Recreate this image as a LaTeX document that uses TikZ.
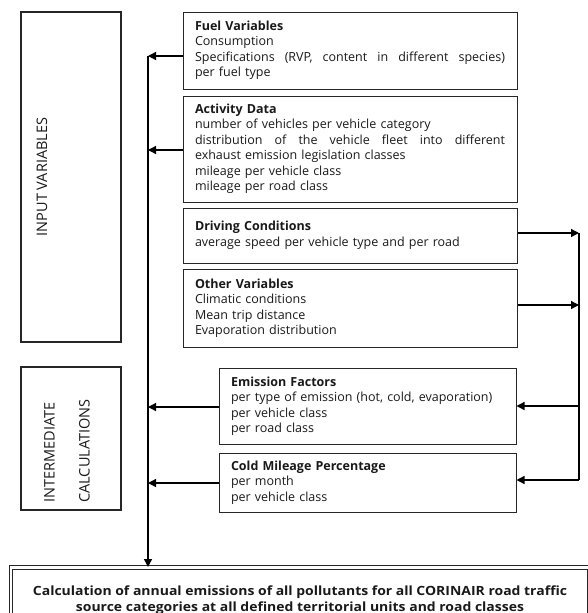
\documentclass[tikz,border=0pt]{standalone}
\usepackage{fontspec}
\setmainfont{Open Sans}
\newfontfamily\resultfont[FakeStretch=1.1]{Open Sans}
\usetikzlibrary{positioning, arrows.meta}

\begin{document}
\begin{tikzpicture}[
    x=1pt, y=-1pt,
    font=\fontsize{12.5}{15.5}\selectfont,
    box/.style={rectangle, draw=black!85, line width=1pt, align=left, inner xsep=12pt, inner ysep=0pt, text=black!90},
    inbox/.style={box, minimum width=334pt, text width=310pt},
    calcbox/.style={box, minimum width=297pt, text width=273pt},
    sidebox/.style={rectangle, draw=black!85, line width=1.2pt, minimum width=100pt},
    sidetext/.style={rotate=90, font=\fontsize{14.5}{35}\selectfont, align=left, text=black!90},
    link/.style={line width=1.3pt, -{Triangle[length=8pt, width=8pt]}},
    bus/.style={line width=1.3pt}
]
\useasboundingbox (0,0) rectangle (588,613);

% Side boxes
\node[sidebox, minimum height=330pt] (inputbox) at (71,177) {};
\node[sidetext] (inputlbl) at (42,177) {INPUT VARIABLES};
\node[sidebox, minimum height=143pt] (interbox) at (71,438.5) {};
\node[sidetext] (interlbl) at (67,451) {INTERMEDIATE\\CALCULATIONS};

% Input variables
\node[inbox, minimum height=77pt] (fuel) at (350,50.5) {\textbf{Fuel Variables}\\Consumption\\\leavevmode\hbox to 310pt{Specifications\hfill(RVP,\hfill content\hfill in\hfill different\hfill species)}\\per fuel type};
\node[inbox, minimum height=106pt] (activity) at (350,149) {\textbf{Activity Data}\\number of vehicles per vehicle category\\\leavevmode\hbox to 310pt{distribution\hfill of\hfill the\hfill vehicle\hfill fleet\hfill into\hfill different}\\exhaust emission legislation classes\\mileage per vehicle class\\mileage per road class};
\node[inbox, minimum height=55pt] (driving) at (350,235.5) {\textbf{Driving Conditions}\\average speed per vehicle type and per road};
\node[inbox, minimum height=78pt] (other) at (350,308) {\textbf{Other Variables}\\Climatic conditions\\Mean trip distance\\Evaporation distribution};

% Intermediate calculations
\node[calcbox, minimum height=76pt] (emission) at (367.5,406) {\textbf{Emission Factors}\\per type of emission (hot, cold, evaporation)\\per vehicle class\\per road class};
\node[calcbox, minimum height=59pt] (cold) at (367.5,482.5) {\textbf{Cold Mileage Percentage}\\per month\\per vehicle class};

% Result
\node[rectangle, draw=black!85, double=white, double distance=2.5pt, line width=0.9pt, anchor=north, minimum width=578pt, inner ysep=18pt, align=center, text=black!90, font=\resultfont\fontsize{12.7}{16}\selectfont\bfseries] (result) at (300,567) {Calculation of annual emissions of all pollutants for all CORINAIR road traffic\\source categories at all defined territorial units and road classes};

% Left bus
\coordinate (lbustop) at (148,56);
\coordinate (actin) at (148,150);
\coordinate (emisin) at (148,407);
\coordinate (coldin) at (148,483);
\draw[link] (lbustop) -- (lbustop |- result.north);
\draw[link] (fuel.west |- lbustop) -- (lbustop);
\draw[link] (activity.west |- actin) -- (actin);
\draw[link] (emission.west |- emisin) -- (emisin);
\draw[link] (cold.west |- coldin) -- (coldin);

% Right bus
\coordinate (rbustop) at (579,233);
\coordinate (otherin) at (579,305);
\coordinate (rbusbot) at (579,480);
\draw[bus] (rbustop) -- (rbusbot);
\draw[link] (driving.east |- rbustop) -- (rbustop);
\draw[link] (other.east |- otherin) -- (otherin);
\draw[link] (rbustop |- emission.east) -- (emission.east);
\draw[link] (rbusbot) -- (cold.east |- rbusbot);

\end{tikzpicture}
\end{document}
